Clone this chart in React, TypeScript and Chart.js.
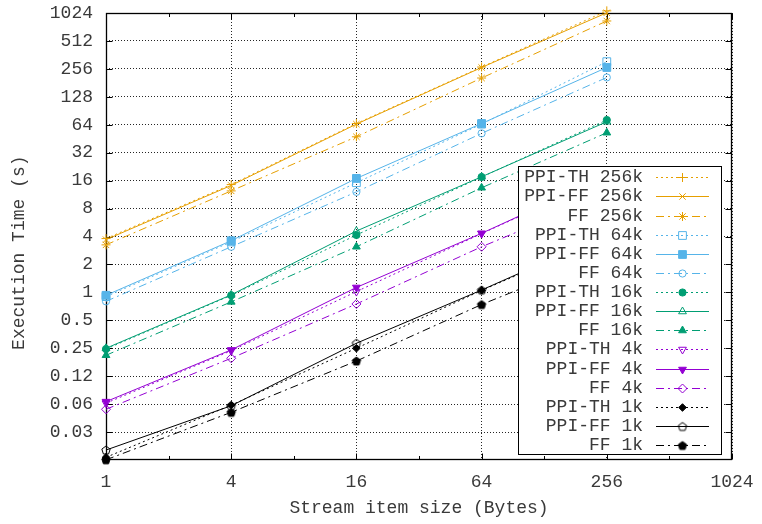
import React, { useEffect, useRef } from 'react';
import { Chart, registerables } from 'chart.js';
import { drawPoint } from 'chart.js/helpers';

Chart.register(...registerables);

// ---------------- data ----------------
const xValues = [1, 4, 16, 64, 256];
const xTickValues = [1, 4, 16, 64, 256, 1024];
const xMinorTicks = [2, 8, 32, 128, 512];
const yTickValues = [0.03125, 0.0625, 0.125, 0.25, 0.5, 1, 2, 4, 8, 16, 32, 64, 128, 256, 512, 1024];
const yTickLabels = ['0.03', '0.06', '0.12', '0.25', '0.5', '1', '2', '4', '8', '16', '32', '64', '128', '256', '512', '1024'];

const seriesLabels = [
  'PPI-TH 256k', 'PPI-FF 256k', 'FF 256k',
  'PPI-TH 64k', 'PPI-FF 64k', 'FF 64k',
  'PPI-TH 16k', 'PPI-FF 16k', 'FF 16k',
  'PPI-TH 4k', 'PPI-FF 4k', 'FF 4k',
  'PPI-TH 1k', 'PPI-FF 1k', 'FF 1k',
];

const ppiTh256 = [3.8, 14.5, 66, 268, 1080];
const ppiFf256 = [3.7, 14.2, 65, 265, 1030];
const ff256 = [3.25, 12.4, 47.5, 204, 840];

const ppiTh64 = [0.9, 3.5, 15.2, 65, 306];
const ppiFf64 = [0.93, 3.6, 16.9, 66, 265];
const ff64 = [0.8, 3.1, 12.1, 51.7, 207];

const ppiTh16 = [0.245, 0.93, 4.15, 17.5, 72];
const ppiFf16 = [0.25, 0.94, 4.58, 17.6, 69];
const ff16 = [0.21, 0.79, 3.1, 13.4, 52.5];

const ppiTh4 = [0.064, 0.235, 1.02, 4.3, 17.5];
const ppiFf4 = [0.0665, 0.24, 1.13, 4.33, 18];
const ff4 = [0.055, 0.195, 0.75, 3.1, 11.3];

const ppiTh1 = [0.0167, 0.061, 0.25, 1.05, 4.0];
const ppiFf1 = [0.02, 0.06, 0.283, 1.06, 4.2];
const ff1 = [0.0157, 0.051, 0.182, 0.74, 2.6];

const seriesValues = [
  ppiTh256, ppiFf256, ff256,
  ppiTh64, ppiFf64, ff64,
  ppiTh16, ppiFf16, ff16,
  ppiTh4, ppiFf4, ff4,
  ppiTh1, ppiFf1, ff1,
];

// ---------------- styles ----------------
const FONT = '"Liberation Mono", "DejaVu Sans Mono", monospace';
const FONT_SIZE = 18;
const TEXT_COLOR = '#3a3a3a';
const groupColors = ['#e69f00', '#56b4e9', '#009e73', '#9400d3', '#000000'];
const kindDash = [[2, 3], [], [8, 4, 2, 4]];

function makePentagon(filled: boolean, color: string) {
  const c = document.createElement('canvas');
  c.width = 12;
  c.height = 12;
  const g = c.getContext('2d')!;
  g.beginPath();
  for (let k = 0; k < 5; k++) {
    const ang = -Math.PI / 2 + (k * 2 * Math.PI) / 5;
    const px = 6 + 4.4 * Math.cos(ang);
    const py = 6.4 + 4.4 * Math.sin(ang);
    if (k === 0) g.moveTo(px, py);
    else g.lineTo(px, py);
  }
  g.closePath();
  if (filled) {
    g.fillStyle = color;
    g.fill();
  }
  g.strokeStyle = color;
  g.lineWidth = 1;
  g.stroke();
  return c;
}

type Marker = { style: any; filled: boolean; radius: number; rotation?: number };

function markerFor(i: number, color: string): Marker {
  switch (i) {
    case 0: return { style: 'cross', filled: false, radius: 4.5 };
    case 1: return { style: 'crossRot', filled: false, radius: 4.5 };
    case 2: return { style: 'star', filled: false, radius: 4.5 };
    case 3: return { style: 'rect', filled: false, radius: 5.5 };
    case 4: return { style: 'rect', filled: true, radius: 5.5 };
    case 5: return { style: 'circle', filled: false, radius: 3.6 };
    case 6: return { style: 'circle', filled: true, radius: 3.6 };
    case 7: return { style: 'triangle', filled: false, radius: 4.5 };
    case 8: return { style: 'triangle', filled: true, radius: 4.5 };
    case 9: return { style: 'triangle', filled: false, radius: 4.5, rotation: 180 };
    case 10: return { style: 'triangle', filled: true, radius: 4.5, rotation: 180 };
    case 11: return { style: 'rectRot', filled: false, radius: 4.5 };
    case 12: return { style: 'rectRot', filled: true, radius: 3.8 };
    case 13: return { style: makePentagon(false, color), filled: false, radius: 4.5 };
    default: return { style: makePentagon(true, color), filled: true, radius: 4.5 };
  }
}

const framePlugin = {
  id: 'gpFrame',
  beforeDatasetsDraw(chart: any) {
    const { ctx, chartArea: a, scales } = chart;
    ctx.save();
    ctx.strokeStyle = '#000';
    ctx.lineWidth = 1;
    ctx.beginPath();
    const L = Math.round(a.left) + 0.5, R = Math.round(a.right) - 0.5;
    const T = Math.round(a.top) + 0.5, B = Math.round(a.bottom) - 0.5;
    xTickValues.forEach((v) => {
      const px = Math.round(scales.x.getPixelForValue(v)) + 0.5;
      ctx.moveTo(px, B); ctx.lineTo(px, B - 6);
      ctx.moveTo(px, T); ctx.lineTo(px, T + 6);
    });
    xMinorTicks.forEach((v) => {
      const px = Math.round(scales.x.getPixelForValue(v)) + 0.5;
      ctx.moveTo(px, B); ctx.lineTo(px, B - 3.5);
      ctx.moveTo(px, T); ctx.lineTo(px, T + 3.5);
    });
    yTickValues.forEach((v) => {
      const py = Math.round(scales.y.getPixelForValue(v)) + 0.5;
      ctx.moveTo(L, py); ctx.lineTo(L + 6, py);
      ctx.moveTo(R, py); ctx.lineTo(R - 6, py);
    });
    ctx.stroke();
    ctx.lineWidth = 1.3;
    ctx.strokeRect(L, T, R - L, B - T);
    ctx.restore();
  },
};

const legendPlugin = {
  id: 'gpLegend',
  afterDatasetsDraw(chart: any) {
    const { ctx, chartArea: a } = chart;
    const w = 203, h = 288;
    const right = a.right - 11, bottom = a.bottom - 6;
    const left = Math.round(right - w), top = Math.round(bottom - h);
    ctx.save();
    ctx.fillStyle = '#fff';
    ctx.fillRect(left, top, w, h);
    ctx.strokeStyle = '#000';
    ctx.lineWidth = 1;
    ctx.strokeRect(left + 0.5, top + 0.5, w, h);
    ctx.font = `${FONT_SIZE}px ${FONT}`;
    ctx.textAlign = 'right';
    ctx.textBaseline = 'middle';
    chart.data.datasets.forEach((ds: any, i: number) => {
      const y = Math.round(top + 11.3 + i * 19.12) + 0.5;
      ctx.fillStyle = TEXT_COLOR;
      ctx.fillText(ds.label, left + 125, y);
      ctx.strokeStyle = ds.borderColor;
      ctx.lineWidth = ds.borderWidth;
      ctx.setLineDash(ds.borderDash || []);
      ctx.beginPath();
      ctx.moveTo(left + 138, y);
      ctx.lineTo(left + 191, y);
      ctx.stroke();
      ctx.setLineDash([]);
      ctx.fillStyle = ds.pointBackgroundColor;
      ctx.strokeStyle = ds.pointBorderColor;
      ctx.lineWidth = 1;
      drawPoint(ctx, {
        pointStyle: ds.pointStyle,
        rotation: ds.pointRotation || 0,
        radius: ds.pointRadius,
        borderWidth: 1,
      } as any, left + 164.5, y);
    });
    ctx.restore();
  },
};

export default function App() {
  const ref = useRef<HTMLCanvasElement | null>(null);

  useEffect(() => {
    if (!ref.current) return;
    const datasets = seriesValues.map((vals, i) => {
      const color = groupColors[Math.floor(i / 3)];
      const m = markerFor(i, color);
      return {
        label: seriesLabels[i],
        data: xValues.map((x, j) => ({ x, y: vals[j] })),
        borderColor: color,
        backgroundColor: color,
        borderWidth: 1,
        borderDash: kindDash[i % 3],
        pointStyle: m.style,
        pointRadius: m.radius,
        pointRotation: m.rotation || 0,
        pointBorderWidth: 1,
        pointBorderColor: color,
        pointBackgroundColor: m.filled ? color : 'rgba(0,0,0,0)',
        tension: 0,
        fill: false,
        clip: false as any,
      };
    });

    const chart = new Chart(ref.current, {
      type: 'line',
      data: { datasets },
      plugins: [framePlugin, legendPlugin],
      options: {
        animation: false,
        responsive: false,
        events: [],
        layout: { padding: { left: 0, top: 13, right: 30, bottom: 0 } },
        plugins: { legend: { display: false }, tooltip: { enabled: false } },
        scales: {
          x: {
            type: 'logarithmic',
            min: 1,
            max: 1024,
            afterBuildTicks: (s: any) => {
              s.ticks = xTickValues.map((v) => ({ value: v }));
            },
            afterFit: (s: any) => {
              s.height = 64;
              s.paddingLeft = 0;
              s.paddingRight = 0;
            },
            ticks: {
              autoSkip: false,
              maxRotation: 0,
              padding: 11,
              color: TEXT_COLOR,
              font: { family: FONT, size: FONT_SIZE },
              callback: (v: any) => String(v),
            },
            grid: { drawTicks: false, color: 'rgba(0,0,0,0.85)', lineWidth: 1 },
            border: { display: false, dash: [1, 2] },
            title: {
              display: true,
              text: 'Stream item size (Bytes)',
              color: TEXT_COLOR,
              font: { family: FONT, size: FONT_SIZE },
              padding: { top: 0, bottom: 5 },
            },
          },
          y: {
            type: 'logarithmic',
            min: 0.015625,
            max: 1024,
            afterBuildTicks: (s: any) => {
              s.ticks = yTickValues.map((v) => ({ value: v }));
            },
            afterFit: (s: any) => {
              s.width = 106;
              s.paddingTop = 0;
              s.paddingBottom = 0;
            },
            ticks: {
              autoSkip: false,
              padding: 13,
              color: TEXT_COLOR,
              font: { family: FONT, size: FONT_SIZE },
              callback: (_v: any, i: number) => yTickLabels[i],
            },
            grid: { drawTicks: false, color: 'rgba(0,0,0,0.85)', lineWidth: 1 },
            border: { display: false, dash: [1, 2] },
            title: {
              display: true,
              text: 'Execution Time (s)   ',
              color: TEXT_COLOR,
              font: { family: FONT, size: FONT_SIZE },
              padding: { top: 8, bottom: 0 },
            },
          },
        },
      } as any,
    });
    return () => chart.destroy();
  }, []);

  return (
    <div style={{ position: 'fixed', left: 0, top: 0, width: 762, height: 524, background: '#fff' }}>
      <canvas ref={ref} width={762} height={524} style={{ width: 762, height: 524, display: 'block' }} />
    </div>
  );
}
